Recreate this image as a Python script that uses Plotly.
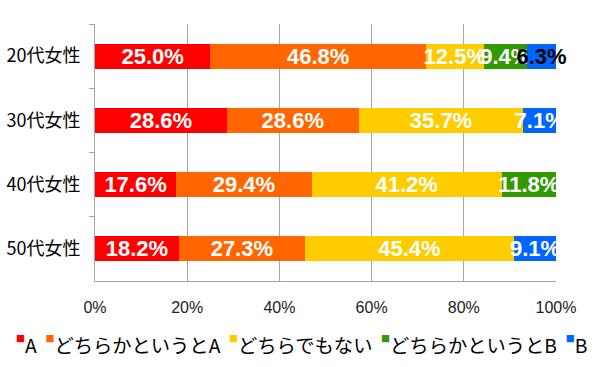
import plotly.graph_objects as go

categories = ["20代女性", "30代女性", "40代女性", "50代女性"]
series_names = ["A", "どちらかというとA", "どちらでもない", "どちらかというとB", "B"]
series_colors = ["#FF0000", "#FF6600", "#FFCC00", "#339900", "#0066FF"]
values_a = [25.0, 28.6, 17.6, 18.2]
values_rather_a = [46.8, 28.6, 29.4, 27.3]
values_neither = [12.5, 35.7, 41.2, 45.4]
values_rather_b = [9.4, 0.0, 11.8, 0.0]
values_b = [6.3, 7.1, 0.0, 9.1]
x_tick_values = [0, 20, 40, 60, 80, 100]
x_tick_labels = ["0%", "20%", "40%", "60%", "80%", "100%"]

all_values = [values_a, values_rather_a, values_neither, values_rather_b, values_b]

fig = go.Figure()
for i, (name, color, vals) in enumerate(zip(series_names, series_colors, all_values)):
    texts = [f"{v:.1f}%" if v > 0 else "" for v in vals]
    if i == 4:
        tcolors = ["#000000", "#FFFFFF", "#FFFFFF", "#FFFFFF"]
    else:
        tcolors = ["#FFFFFF"] * len(vals)
    fig.add_trace(go.Bar(
        y=categories, x=vals, name=name, orientation="h",
        marker=dict(color=color, line=dict(width=0)),
        text=texts, textposition="inside", insidetextanchor="middle",
        textangle=0, constraintext="none", cliponaxis=False,
        textfont=dict(family="Liberation Sans, Arial, sans-serif", size=22,
                      color=tcolors, weight="bold"),
        showlegend=False, hoverinfo="skip",
    ))

legend_parts = [
    f"<sup><span style='color:{c};font-size:9px;baseline-shift:3px'>■</span></sup>{n}"
    for n, c in zip(series_names, series_colors)
]
legend_text = "&nbsp; ".join(legend_parts)

fig.add_annotation(
    text=legend_text, xref="paper", yref="paper", x=0.448, y=-0.25,
    xanchor="center", yanchor="middle", showarrow=False,
    font=dict(family="Noto Sans CJK JP, sans-serif", size=19.3, color="#000000"),
)

fig.update_layout(
    width=600, height=367,
    margin=dict(l=95, r=44, t=24, b=86),
    paper_bgcolor="white", plot_bgcolor="white",
    barmode="stack", bargap=0.61,
    font=dict(family="Noto Sans CJK JP, sans-serif", color="#000000"),
)
fig.update_xaxes(
    range=[0, 100], tickvals=x_tick_values, ticktext=x_tick_labels,
    showgrid=True, gridcolor="#A6A6A6", gridwidth=1,
    showline=True, linecolor="#A6A6A6", linewidth=1,
    ticks="", zeroline=False, ticklabelstandoff=12, automargin=False,
    tickfont=dict(family="Liberation Sans, Arial, sans-serif", size=16, color="#222222"),
)
fig.update_yaxes(
    autorange="reversed", tickson="boundaries",
    ticks="outside", ticklen=5, tickcolor="#A6A6A6",
    showline=True, linecolor="#A6A6A6", linewidth=1,
    showgrid=False, ticklabelstandoff=10, automargin=False,
    tickfont=dict(family="Noto Sans CJK JP, sans-serif", size=18, color="#000000"),
)

fig.write_html(
    "out.html",
    config={"displayModeBar": False},
    post_script="document.body.style.margin='0';document.body.style.padding='0';",
)
